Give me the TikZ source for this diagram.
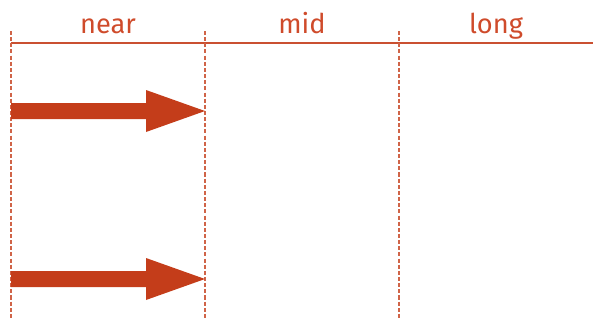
\documentclass[tikz,border=0pt]{standalone}
\usepackage{fontspec}
\setmainfont{Fira Sans}
\usepackage{tikz}
\definecolor{rust}{RGB}{196,61,26}
\definecolor{label}{RGB}{207,75,43}
\tikzset{
  grid/.style={draw=rust!80, line width=0.6pt, dash pattern=on 2.3pt off 1.2pt},
  rule/.style={draw=rust!90, line width=0.7pt},
  head/.style={text=label, anchor=base, font=\fontsize{15.5}{18}\selectfont},
  bar/.style={fill=rust, draw=none}
}

\begin{document}
\begin{tikzpicture}
  \useasboundingbox (0.00, 0.00) rectangle (11.86, -6.40);
  \draw[rule] (0.22, -0.86) -- (11.86, -0.86);
  \draw[grid] (0.22, -0.62) -- (0.22, -6.40);
  \draw[grid] (4.10, -0.62) -- (4.10, -6.40);
  \draw[grid] (7.98, -0.62) -- (7.98, -6.40);
  \node[head] (near) at (2.16, -0.66) {near};
  \node[head] (mid) at (6.04, -0.66) {mid};
  \node[head] (long) at (9.92, -0.66) {long};
  \fill[bar] (0.22, -2.06) -- (2.92, -2.06) -- (2.92, -1.80) -- (4.10, -2.22)
    -- (2.92, -2.64) -- (2.92, -2.38) -- (0.22, -2.38) -- cycle;
  \fill[bar] (0.22, -5.42) -- (2.92, -5.42) -- (2.92, -5.16) -- (4.10, -5.58)
    -- (2.92, -6.00) -- (2.92, -5.74) -- (0.22, -5.74) -- cycle;
\end{tikzpicture}
\end{document}
